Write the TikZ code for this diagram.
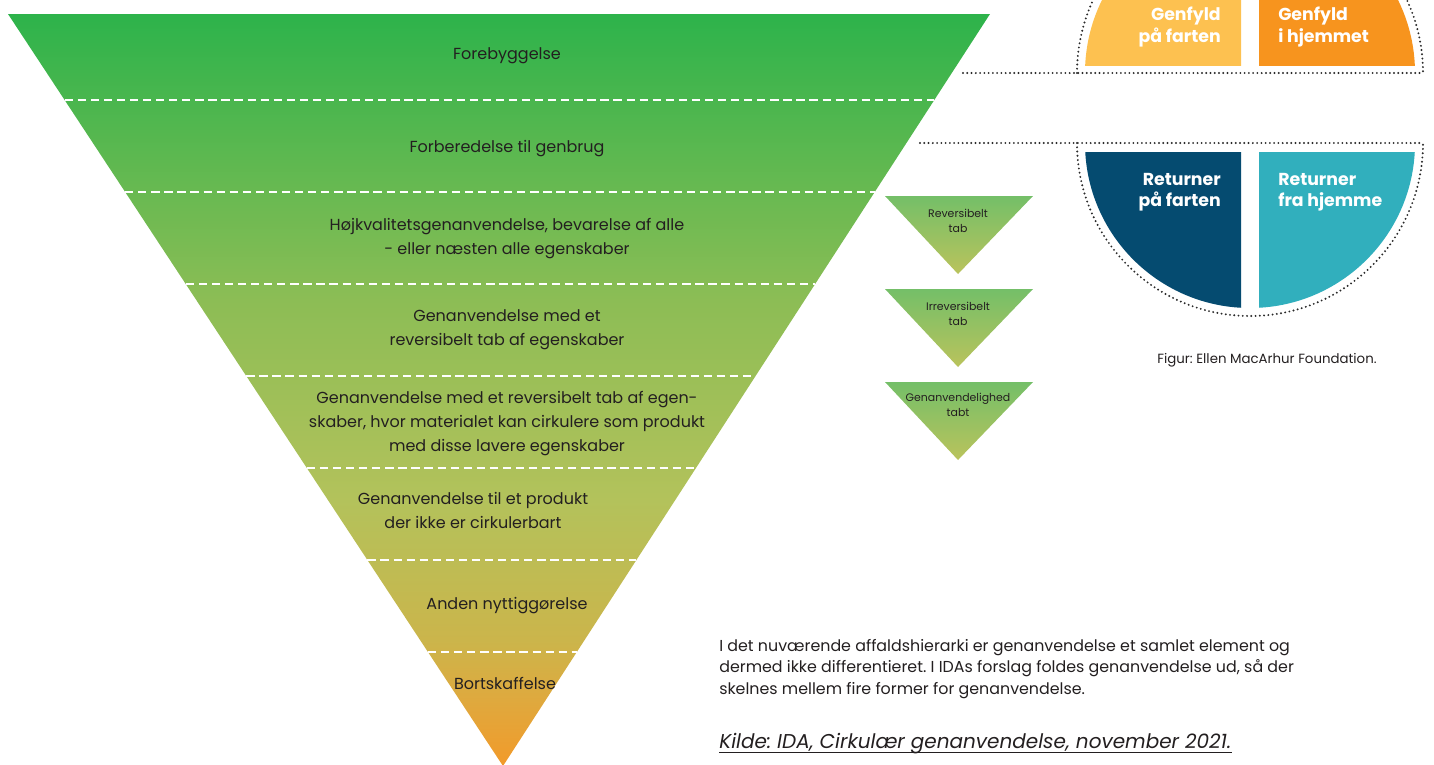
\documentclass[tikz,border=0pt]{standalone}
\usepackage{fontspec}
\setmainfont{Poppins}
\usetikzlibrary{calc}
\frenchspacing
\definecolor{txt}{HTML}{231F20}
\definecolor{gTop}{HTML}{2DB34B}
\definecolor{gMid}{HTML}{8CBD55}
\definecolor{gOl}{HTML}{B3C25B}
\definecolor{gOl2}{HTML}{CBB54B}
\definecolor{gOr2}{HTML}{DFA93E}
\definecolor{gOr}{HTML}{F29A2A}
\definecolor{sTop}{HTML}{74BF68}
\definecolor{sBot}{HTML}{BAC35C}
\definecolor{cYel}{HTML}{FDC150}
\definecolor{cOra}{HTML}{F7941E}
\definecolor{cBlu}{HTML}{054B70}
\definecolor{cTea}{HTML}{31AFBD}
\definecolor{dotc}{HTML}{2A2A2A}
\pgfdeclareverticalshading{bigtri}{100bp}{color(0bp)=(gOr); color(25bp)=(gOr); color(29.4bp)=(gOr2); color(33.4bp)=(gOl2); color(42.7bp)=(gOl); color(56bp)=(gMid); color(75bp)=(gTop); color(100bp)=(gTop)}
\tikzset{
  tritext/.style={inner sep=0pt, text=txt, align=center, font=\fontsize{12}{18}\selectfont},
  smalltext/.style={inner sep=0pt, text=txt, align=center, font=\fontsize{8.2}{11}\selectfont},
  circtext/.style={inner sep=0pt, text=white, font=\fontsize{13}{16}\selectfont\bfseries},
  dashline/.style={white, line width=1.8pt, dash pattern=on 6.2pt off 3.6pt},
  dotline/.style={dotc, line width=1.6pt, line cap=round, dash pattern=on 0pt off 3.2pt},
  smalltri/.style={top color=sTop, bottom color=sBot}
}
\begin{document}
\begin{tikzpicture}[x=0.75pt, y=-0.75pt]
\useasboundingbox (0,0) rectangle (1434,764);
% big triangle
\coordinate (L) at (8,14);
\coordinate (R) at (990,14);
\coordinate (A) at (503,766);
\shade[shading=bigtri] (L) -- (R) -- (A) -- cycle;
\foreach \t [count=\i] in {0.1144,0.2367,0.3590,0.4814,0.6037,0.7261,0.8484}{
  \coordinate (dl\i) at ($(L)!\t!(A)$);
  \coordinate (dr\i) at ($(R)!\t!(A)$);
  \draw[dashline] (dl\i) -- (dr\i);
}
\node[tritext] (t1) at (507,56) {Forebyggelse};
\node[tritext] (t2) at (507,149) {Forberedelse til genbrug};
\node[tritext] (t3) at (507,239) {Højkvalitetsgenanvendelse, bevarelse af alle\\- eller næsten alle egenskaber};
\node[tritext] (t4) at (507,330) {Genanvendelse med et\\reversibelt tab af egenskaber};
\node[tritext] (t5) at (507,424) {Genanvendelse med et reversibelt tab af egen-\\skaber, hvor materialet kan cirkulere som produkt\\med disse lavere egenskaber};
\node[tritext] (t6) at (473,510) {Genanvendelse til et produkt\\der ikke er cirkulerbart};
\node[tritext] (t7) at (507,606) {Anden nyttiggørelse};
\node[tritext] (t8) at (505,683) {Bortskaffelse};
% small triangles
\shade[smalltri] (885,196) -- (1033,196) -- (958,274) -- cycle;
\shade[smalltri] (885,289) -- (1033,289) -- (958,367) -- cycle;
\shade[smalltri] (885,382) -- (1033,382) -- (958,460) -- cycle;
\node[smalltext] (s1) at (958,221) {Reversibelt\\tab};
\node[smalltext] (s2) at (958,314) {Irreversibelt\\tab};
\node[smalltext] (s3) at (958,405) {Genanvendelighed\\tabt};
% circle sectors
\begin{scope}
  \clip (1085,-120) rectangle (1241,65);
  \fill[cYel] (1250,73) circle[radius=123.75pt];
\end{scope}
\begin{scope}
  \clip (1259,-120) rectangle (1420,65);
  \fill[cOra] (1250,73) circle[radius=123.75pt];
\end{scope}
\begin{scope}
  \clip (1080,152) rectangle (1241,330);
  \fill[cBlu] (1250,143) circle[radius=123.75pt];
\end{scope}
\begin{scope}
  \clip (1259,152) rectangle (1420,330);
  \fill[cTea] (1250,143) circle[radius=123.75pt];
\end{scope}
% dotted outline
\coordinate (d1a) at (963,73);
\coordinate (d1b) at (1077,73);
\coordinate (d1c) at (1423,73);
\coordinate (d2a) at (920,143);
\coordinate (d2b) at (1077,143);
\coordinate (d2c) at (1423,143);
\draw[dotline] (d1a) -- (d1c);
\draw[dotline] (d1b) arc[start angle=180, end angle=0, radius=129.75pt];
\draw[dotline] (d2a) -- (d2c);
\draw[dotline] (d2b) arc[start angle=180, end angle=360, radius=129.75pt];
\node[circtext, align=right, anchor=east] (c1) at (1221,27) {Genfyld\\på farten};
\node[circtext, align=left, anchor=west] (c2) at (1278,27) {Genfyld\\i hjemmet};
\node[circtext, align=right, anchor=east] (c3) at (1221,192) {Returner\\på farten};
\node[circtext, align=left, anchor=west] (c4) at (1278,192) {Returner\\fra hjemme};
\node[inner sep=0pt, text=txt, font=\fontsize{10}{12}\selectfont] (fig) at (1267,360) {Figur: Ellen MacArhur Foundation.};
% bottom text
\node[inner sep=0pt, text=txt, align=left, anchor=west, font=\fontsize{11.9}{15.9}\selectfont] (para) at (719,669) {I det nuværende affaldshierarki er genanvendelse et samlet element og\\dermed ikke differentieret. I IDAs forslag foldes genanvendelse ud, så der\\skelnes mellem fire former for genanvendelse.};
\node[inner sep=0pt, text=txt, anchor=base west, font=\fontsize{15}{17}\selectfont\itshape] (kilde) at (719,748) {Kilde: IDA, Cirkulær genanvendelse, november 2021.};
\draw[txt, line width=0.75pt] ($(kilde.base west)+(0,4)$) -- ($(kilde.base east)+(0,4)$);
\end{tikzpicture}
\end{document}
